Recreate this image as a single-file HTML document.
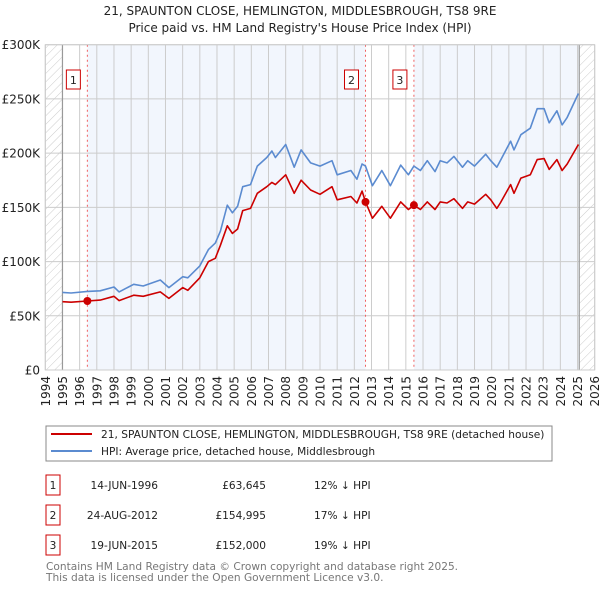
<!DOCTYPE html>
<html><head><meta charset="utf-8">
<style>
body{margin:0;background:#fff;font-family:"DejaVu Sans","Liberation Sans",sans-serif;}
svg text{font-family:"DejaVu Sans","Liberation Sans",sans-serif;}
</style></head>
<body>
<svg id="chart" width="600" height="590" xmlns="http://www.w3.org/2000/svg">
<defs>
<pattern id="hatch" patternUnits="userSpaceOnUse" width="6" height="6" patternTransform="rotate(45)">
<line x1="0" y1="0" x2="0" y2="6" stroke="#ccc" stroke-width="1"/>
</pattern>
</defs>
<text x="300" y="15" text-anchor="middle" font-size="12" fill="#222">21, SPAUNTON CLOSE, HEMLINGTON, MIDDLESBROUGH, TS8 9RE</text>
<text x="300" y="32" text-anchor="middle" font-size="12" fill="#222">Price paid vs. HM Land Registry's House Price Index (HPI)</text>
<g id="plot"></g>
<g>
<rect x="46" y="426" width="506" height="35" fill="#fff" stroke="#888"/>
<line x1="51" y1="434" x2="92" y2="434" stroke="#cc0000" stroke-width="2"/>
<text x="101" y="438" font-size="10.6" fill="#222">21, SPAUNTON CLOSE, HEMLINGTON, MIDDLESBROUGH, TS8 9RE (detached house)</text>
<line x1="51" y1="451" x2="92" y2="451" stroke="#5b8bd0" stroke-width="2"/>
<text x="101" y="455" font-size="10.6" fill="#222">HPI: Average price, detached house, Middlesbrough</text>
</g>
<g font-size="10.6" fill="#222">
<rect x="46" y="475" width="14" height="20" fill="#fff" stroke="#cc0000"/><text x="53" y="489" text-anchor="middle">1</text>
<text x="158" y="489" text-anchor="end">14-JUN-1996</text><text x="266" y="489" text-anchor="end">£63,645</text><text x="314" y="489">12% ↓ HPI</text>
<rect x="46" y="505" width="14" height="20" fill="#fff" stroke="#cc0000"/><text x="53" y="519" text-anchor="middle">2</text>
<text x="158" y="519" text-anchor="end">24-AUG-2012</text><text x="266" y="519" text-anchor="end">£154,995</text><text x="314" y="519">17% ↓ HPI</text>
<rect x="46" y="535" width="14" height="20" fill="#fff" stroke="#cc0000"/><text x="53" y="549" text-anchor="middle">3</text>
<text x="158" y="549" text-anchor="end">19-JUN-2015</text><text x="266" y="549" text-anchor="end">£152,000</text><text x="314" y="549">19% ↓ HPI</text>
</g>
<text x="46" y="570" font-size="10.6" fill="#777">Contains HM Land Registry data © Crown copyright and database right 2025.</text>
<text x="46" y="581" font-size="10.6" fill="#777">This data is licensed under the Open Government Licence v3.0.</text>
</svg>
<script>
const years=[1995.0,1995.5,1996.45,1997.2,1998.0,1998.3,1999.15,1999.7,2000.7,2001.2,2002.0,2002.3,2003.0,2003.5,2003.9,2004.2,2004.6,2004.9,2005.2,2005.5,2005.95,2006.35,2006.9,2007.2,2007.4,2008.0,2008.5,2008.9,2009.45,2010.0,2010.7,2011.0,2011.8,2012.15,2012.45,2012.65,2013.05,2013.6,2014.1,2014.7,2015.15,2015.47,2015.85,2016.25,2016.7,2017.0,2017.4,2017.8,2018.3,2018.6,2019.0,2019.65,2019.95,2020.3,2020.5,2021.1,2021.3,2021.7,2022.25,2022.65,2023.05,2023.35,2023.8,2024.1,2024.4,2025.05];
const hpi=[71.6,71,72.5,73,76.5,72,79,77.5,83,76,86,85,96,111,117,128,152,145,151,169,171,188,196,202,196,208,187,203,191,188,193,180,184,176,190,188,170,184,170,189,180,188,184,193,183,193,191,197,187,193,188,199,193,187,193,211,203,217,223,241,241,228,239,226,233,255];
const paid=[63,62.5,63.6,64.5,68,64,69,68,72,66,76,73.5,85,100,103,115,133,126,130,147,149,163,169,173,171,180,163,175,166,162,169,157,160,154,165,155,140,151,140,155,148,152,148,155,148,155,154,158,149,155,153,162,157,149,154,171,163,177,180,194,195,185,194,184,190,208];
const saleYears=[1996.45,2012.65,2015.47];
const salePrices=[63.645,154.995,152.0];
const saleLabels=["1","2","3"];
const yTicks=[0,50,100,150,200,250,300];
const yTickLabels=["£0","£50K","£100K","£150K","£200K","£250K","£300K"];
const xTickYears=[1994,1995,1996,1997,1998,1999,2000,2001,2002,2003,2004,2005,2006,2007,2008,2009,2010,2011,2012,2013,2014,2015,2016,2017,2018,2019,2020,2021,2022,2023,2024,2025,2026];

const NS="http://www.w3.org/2000/svg";
const L=45.3,R=594.7,T=44.7,B=370,x0=1994,x1=2026,dataEnd=2025.1;
const X=v=>L+(v-x0)/(x1-x0)*(R-L);
const Y=v=>B-v/300*(B-T);
const g=document.getElementById('plot');
function mk(tag,attrs,parent){const e=document.createElementNS(NS,tag);for(const k in attrs)e.setAttribute(k,attrs[k]);(parent||g).appendChild(e);return e;}

let e;
e=mk('rect',{x:X(1994),y:T,width:X(1995)-X(1994),height:B-T,fill:'url(#hatch)'});


e=mk('rect',{x:X(dataEnd),y:T,width:R-X(dataEnd),height:B-T,fill:'url(#hatch)'});


e=mk('rect',{x:X(saleYears[0]),y:T,width:X(saleYears[1])-X(saleYears[0]),height:B-T,fill:'#f2f6fd'});


e=mk('rect',{x:X(saleYears[2]),y:T,width:X(dataEnd)-X(saleYears[2]),height:B-T,fill:'#f2f6fd'});



yTicks.forEach((t,i)=>{
  e=mk('line',{x1:L,x2:R,y1:Y(t),y2:Y(t),stroke:'#ccc','stroke-width':1});
  
  
  e=mk('text',{x:40,y:Y(t)+4.5,'text-anchor':'end','font-size':12,fill:'#222'});
  e.textContent=yTickLabels[i];
  
  
});
xTickYears.forEach(yr=>{
  e=mk('line',{x1:X(yr),x2:X(yr),y1:T,y2:B,stroke:'#ccc','stroke-width':1});
  
  
  e=mk('text',{x:0,y:0,'text-anchor':'end','font-size':12,fill:'#222',transform:`translate(${X(yr)+4.5},376) rotate(-90)`});
  e.textContent=yr;
  
  
});
e=mk('line',{x1:X(1995),x2:X(1995),y1:T,y2:B,stroke:'#999','stroke-width':1.2});


e=mk('line',{x1:X(dataEnd),x2:X(dataEnd),y1:T,y2:B,stroke:'#999','stroke-width':1.2});



saleYears.forEach((sy,i)=>{
  e=mk('line',{x1:X(sy),x2:X(sy),y1:T,y2:B,stroke:'#f06060','stroke-width':1,'stroke-dasharray':'2,3'});
  
  
});

function path(vals,color,name){
  const d=years.map((yr,i)=>(i?'L':'M')+X(yr).toFixed(1)+','+Y(vals[i]).toFixed(1)).join('');
  const p=mk('path',{d:d,fill:'none',stroke:color,'stroke-width':1.6,'stroke-linejoin':'round'});
  
  
}
path(hpi,'#5b8bd0','hpi-line');
path(paid,'#cc0000','price-paid-line');

saleYears.forEach((sy,i)=>{
  e=mk('circle',{cx:X(sy),cy:Y(salePrices[i]),r:4,fill:'#cc0000'});
  
  
  e=mk('rect',{x:X(sy)-21,y:70,width:14,height:19,fill:'#fff',stroke:'#cc0000'});
  
  
  e=mk('text',{x:X(sy)-14,y:84,'text-anchor':'middle','font-size':11,fill:'#222'});
  e.textContent=saleLabels[i];
  
  
});
e=mk('rect',{x:L,y:T,width:R-L,height:B-T,fill:'none',stroke:'#ccc'});


</script>
</body></html>
